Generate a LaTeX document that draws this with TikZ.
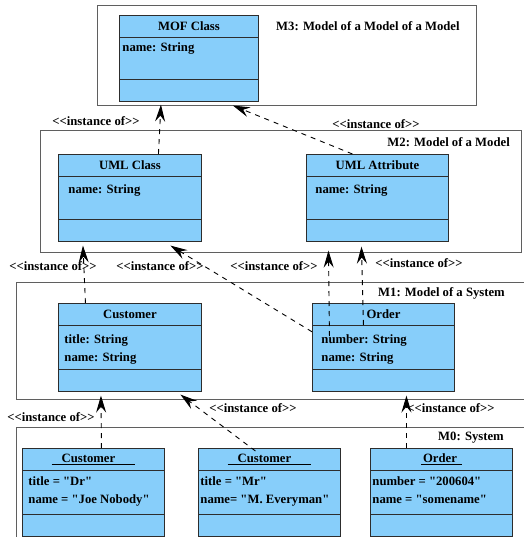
\documentclass[tikz,border=0pt]{standalone}
\usepackage{fontspec}
\setmainfont{Liberation Serif}[Ligatures=TeXOff]
\usetikzlibrary{shapes.multipart,arrows.meta}

\definecolor{umlblue}{RGB}{135,206,250}
\definecolor{boxline}{RGB}{45,45,45}
\definecolor{layerline}{RGB}{95,95,95}

% three compartments: width, title, attributes, attribute height
\newcommand{\umlparts}[4]{%
  \parbox[c][21pt][c]{#1}{\centering #2}%
  \nodepart{second}\parbox[c][#4][t]{#1}{#3}%
  \nodepart{third}\parbox[c][21pt]{#1}{}}

\begin{document}
\begin{tikzpicture}[x=1pt,y=-1pt,
		font=\fontsize{12.7}{17.5}\selectfont\bfseries,
		class box/.style={rectangle split,rectangle split parts=3,draw=boxline,
			fill=umlblue,inner sep=0pt,line width=0.9pt,anchor=north west},
		layer/.style={draw=layerline,line width=1pt},
		layer label/.style={inner sep=0pt},
		inst/.style={dash pattern=on 5pt off 5pt,line width=0.9pt,
			-{Stealth[length=17pt,width=10pt,inset=6pt]}},
		inst label/.style={inner sep=0pt}]
		\useasboundingbox (0,0) rectangle (523,537);
		% layers
		\draw[layer] (97,6) rectangle (476,106);
		\draw[layer] (40,131) rectangle (521,252);
		\draw[layer] (16,282) rectangle (530,399);
		\draw[layer] (16,427) rectangle (530,548);
		\node[layer label,anchor=west] (m3) at (276,26) {M3: Model of a Model of a Model};
		\node[layer label,anchor=east] (m2) at (510,142) {M2: Model of a Model};
		\node[layer label,anchor=east] (m1) at (505,293) {M1: Model of a System};
		\node[layer label,anchor=east] (m0) at (504,438) {M0: System};
		% M3
		\node[class box] (mof) at (119,15)
			{\umlparts{139pt}{MOF Class}{\vspace*{5pt}\hspace*{3pt}name: String}{41pt}};
		% M2
		\node[class box] (ucls) at (58,154)
			{\umlparts{143pt}{UML Class}{\vspace*{8pt}\hspace*{10pt}name: String}{42pt}};
		\node[class box] (uattr) at (306,154)
			{\umlparts{142pt}{UML Attribute}{\vspace*{8pt}\hspace*{9pt}name: String}{42pt}};
		% M1
		\node[class box] (cust) at (58,303)
			{\umlparts{143pt}{Customer}{\vspace*{9pt}\hspace*{6pt}title: String\\
				\hspace*{6pt}name: String}{43pt}};
		\node[class box] (ord) at (312,303)
			{\umlparts{142pt}{Order}{\vspace*{9pt}\hspace*{9pt}number: String\\
				\hspace*{9pt}name: String}{43pt}};
		% M0
		\node[class box] (c1) at (22,448)
			{\umlparts{142pt}{\underline{\hspace{10pt}Customer\hspace{20pt}}}
				{\vspace*{6pt}\hspace*{6pt}title = "Dr"\\
				\hspace*{6pt}name = "Joe Nobody"}{43pt}};
		\node[class box] (c2) at (198,448)
			{\umlparts{142pt}{\underline{\hspace{10pt}Customer\hspace{20pt}}}
				{\vspace*{6pt}\hspace*{2pt}title = "Mr"\\
				\hspace*{2pt}name= "M. Everyman"}{43pt}};
		\node[class box] (o1) at (370,448)
			{\umlparts{142pt}{\underline{\hspace{2pt}Order\hspace{5pt}}}
				{\vspace*{6pt}\hspace*{2pt}number = "200604"\\
				\hspace*{2pt}name = "somename"}{43pt}};
		% instance of
		\draw[inst] ([xshift=28.5pt]ucls.north) -- ([xshift=-28pt,yshift=-3pt]mof.south);
		\draw[inst] ([xshift=-25pt]uattr.north) -- ([xshift=44pt,yshift=-4pt]mof.south);
		\draw[inst] ([xshift=-44.5pt]cust.north) -- ([xshift=-47pt,yshift=-4pt]ucls.south);
		\draw[inst] ([yshift=15.5pt]ord.west) -- ([xshift=40.5pt,yshift=-4pt]ucls.south);
		\draw[inst] ([xshift=-54pt,yshift=-33pt]ord.north) -- ([xshift=-49pt,yshift=-9pt]uattr.south);
		\draw[inst] ([xshift=-20pt,yshift=-22pt]ord.north) -- ([xshift=-16pt,yshift=-5pt]uattr.south);
		\draw[inst] ([xshift=8pt]c1.north) -- ([xshift=-29pt,yshift=-4pt]cust.south);
		\draw[inst] ([xshift=-14pt,yshift=-3pt]c2.north) -- ([xshift=50.5pt,yshift=-3pt]cust.south);
		\draw[inst] ([xshift=-35pt]o1.north) -- ([xshift=23pt,yshift=-4pt]ord.south);
		\node[inst label] (l1) at (96,121) {<<instance of>>};
		\node[inst label] (l2) at (376,124) {<<instance of>>};
		\node[inst label] (l3) at (53,266) {<<instance of>>};
		\node[inst label] (l4) at (160,266) {<<instance of>>};
		\node[inst label] (l5) at (274,266) {<<instance of>>};
		\node[inst label] (l6) at (419,263) {<<instance of>>};
		\node[inst label] (l7) at (51,417) {<<instance of>>};
		\node[inst label] (l8) at (253,408) {<<instance of>>};
		\node[inst label] (l9) at (451,408) {<<instance of>>};
\end{tikzpicture}
\end{document}
